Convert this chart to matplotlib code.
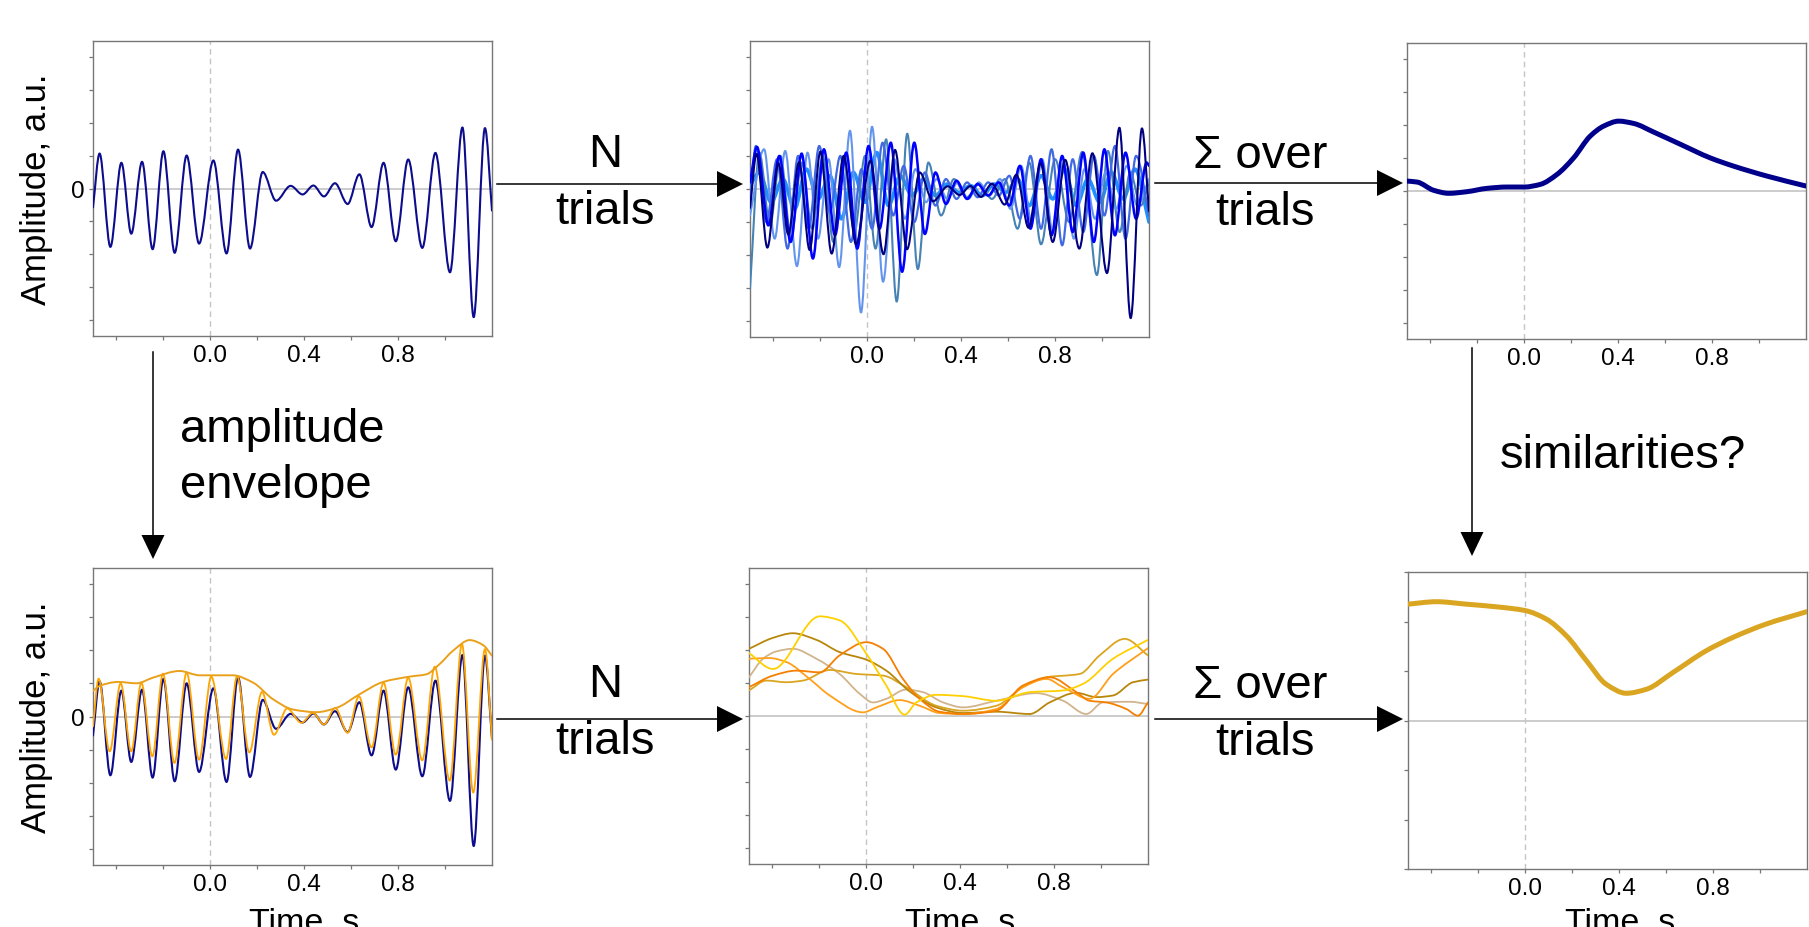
import numpy as np
import matplotlib
matplotlib.use("Agg")
import matplotlib.pyplot as plt
from matplotlib.path import Path
from matplotlib.patches import PathPatch, Polygon
from matplotlib.lines import Line2D

plt.rcParams['font.family'] = ['Liberation Sans', 'DejaVu Sans']

W, H = 1809, 928

# ---------------- data ----------------
# single trial, raw signal (extrema, time in s, amplitude in a.u.)
sig_t = [-0.500, -0.472, -0.426, -0.379, -0.337, -0.291, -0.246, -0.200, -0.152, -0.101,
         -0.048, 0.013, 0.069, 0.118, 0.169, 0.223, 0.280, 0.342, 0.393, 0.439,
         0.484, 0.531, 0.585, 0.635, 0.687, 0.738, 0.790, 0.843, 0.903, 0.959,
         1.021, 1.074, 1.122, 1.170, 1.200]
sig_v = [-0.57, 1.06, -1.77, 0.78, -1.37, 0.81, -1.84, 1.13, -1.95, 1.00,
         -1.67, 0.85, -1.97, 1.18, -1.82, 0.50, -0.37, 0.08, -0.18, 0.09,
         -0.24, 0.16, -0.47, 0.43, -1.17, 0.78, -1.60, 0.88, -1.80, 1.08,
         -2.54, 1.85, -3.90, 1.83, -0.67]

# filtered single trial (orange)
filt_t = [-0.500, -0.476, -0.429, -0.382, -0.337, -0.294, -0.247, -0.202, -0.153, -0.101,
          -0.048, 0.004, 0.067, 0.114, 0.166, 0.220, 0.271, 0.327, 0.388, 0.437,
          0.484, 0.532, 0.585, 0.633, 0.687, 0.738, 0.790, 0.843, 0.903, 0.956,
          1.020, 1.072, 1.120, 1.170, 1.200]
filt_v = [-0.30, 1.14, -1.05, 1.00, -1.05, 1.02, -1.20, 1.29, -1.40, 1.32,
          -1.30, 1.20, -1.28, 1.22, -1.08, 0.74, -0.55, 0.24, -0.19, 0.11,
          -0.24, 0.26, -0.49, 0.61, -0.93, 1.02, -1.15, 1.17, -1.32, 1.50,
          -1.93, 2.18, -2.29, 2.03, -0.70]

# amplitude envelope of the single trial
env_t = [-0.500, -0.472, -0.393, -0.315, -0.244, -0.131, -0.046, 0.096, 0.182, 0.267,
         0.352, 0.452, 0.537, 0.636, 0.736, 0.849, 0.920, 0.977, 1.034, 1.105, 1.162, 1.200]
env_v = [0.77, 0.92, 1.04, 1.00, 1.17, 1.37, 1.24, 1.24, 1.02, 0.52,
         0.21, 0.13, 0.26, 0.67, 1.04, 1.20, 1.27, 1.58, 1.98, 2.30, 2.15, 1.83]

# other raw trials (extrema)
tr_blue_t = [-0.5, -0.47, -0.422, -0.375, -0.327, -0.28, -0.232, -0.185, -0.138, -0.09,
             -0.043, 0.005, 0.052, 0.10, 0.148, 0.20, 0.245, 0.29, 0.335, 0.38,
             0.425, 0.47, 0.515, 0.56, 0.605, 0.65, 0.695, 0.74, 0.785, 0.83,
             0.875, 0.92, 0.965, 1.01, 1.055, 1.10, 1.145, 1.19, 1.2]
tr_blue_v = [0.2, 1.27, -1.1, 1.0, -1.6, 1.07, -2.1, 1.2, -1.4, 1.1,
             -1.8, 1.3, -1.2, 1.4, -2.5, 1.4, -1.36, 0.5, -0.45, 0.25,
             -0.3, 0.15, -0.2, 0.2, -0.5, 0.7, -1.2, 0.9, -1.4, 1.0,
             -1.3, 1.1, -1.6, 1.2, -1.4, 1.1, -0.9, 0.8, 0.7]

tr_steel_t = [-0.5, -0.46, -0.415, -0.37, -0.325, -0.28, -0.235, -0.19, -0.145, -0.10,
              -0.055, -0.01, 0.035, 0.08, 0.125, 0.17, 0.215, 0.26, 0.314, 0.369,
              0.423, 0.477, 0.531, 0.586, 0.64, 0.69, 0.74, 0.80, 0.86, 0.915,
              0.978, 1.025, 1.075, 1.12, 1.165, 1.2]
tr_steel_v = [-3.0, 1.1, -1.1, 1.0, -1.5, 0.8, -1.2, 1.0, -1.6, 0.9,
              -1.3, 1.0, -1.8, 1.5, -3.4, 1.67, -2.42, 0.8, -0.8, 0.3,
              -0.25, 0.15, -0.3, 0.3, -1.2, 0.8, -1.67, 0.9, -1.0, 1.12,
              -2.6, 1.15, -1.3, 0.5, -0.5, 0.2]

tr_corn_t = [-0.5, -0.44, -0.395, -0.35, -0.30, -0.255, -0.21, -0.165, -0.12, -0.074,
             -0.027, 0.02, 0.067, 0.115, 0.16, 0.205, 0.25, 0.295, 0.34, 0.385,
             0.43, 0.475, 0.52, 0.565, 0.61, 0.655, 0.70, 0.745, 0.79, 0.835,
             0.88, 0.925, 0.97, 1.015, 1.06, 1.105, 1.15, 1.2]
tr_corn_v = [-0.8, 1.2, -1.5, 1.15, -2.33, 1.1, -1.5, 0.9, -2.36, 1.76,
             -3.73, 1.88, -2.8, 0.9, -0.9, 0.6, -0.4, 0.3, -0.3, 0.2,
             -0.3, 0.2, -0.2, 0.3, -0.6, 0.7, -1.0, 0.9, -1.3, 0.8,
             -1.5, 0.6, -0.9, 0.5, -0.6, 0.7, -0.5, 0.3]

tr_dodger_t = [-0.5, -0.46, -0.41, -0.36, -0.31, -0.26, -0.21, -0.16, -0.11, -0.06,
               -0.01, 0.04, 0.09, 0.14, 0.19, 0.24, 0.29, 0.34, 0.39, 0.44,
               0.49, 0.54, 0.59, 0.64, 0.69, 0.74, 0.79, 0.84, 0.89, 0.94,
               0.99, 1.04, 1.09, 1.14, 1.2]
tr_dodger_v = [0.1, 0.5, -0.4, 0.3, -0.6, 0.6, -0.3, 0.4, -0.9, 0.5,
               -0.4, 1.1, -0.5, 0.4, -0.2, 0.3, -0.2, 0.15, -0.1, 0.1,
               -0.2, 0.15, -0.1, 0.3, -0.5, 0.4, -0.3, 0.6, -0.5, 0.3,
               -0.4, 0.5, -0.3, 0.6, -1.0]

tr_royal_t = [-0.5, -0.475, -0.43, -0.385, -0.34, -0.295, -0.25, -0.205, -0.16, -0.115,
              -0.07, -0.025, 0.02, 0.065, 0.11, 0.155, 0.2, 0.245, 0.29, 0.335,
              0.38, 0.425, 0.47, 0.515, 0.56, 0.605, 0.65, 0.695, 0.74, 0.785,
              0.83, 0.875, 0.92, 0.965, 1.01, 1.055, 1.10, 1.145, 1.2]
tr_royal_v = [-0.5, 1.3, -1.0, 0.9, -1.8, 1.0, -1.2, 1.3, -0.7, 1.0,
              -1.6, 0.6, -1.2, 1.4, -0.8, 0.7, -1.0, 0.5, -0.5, 0.3,
              -0.3, 0.2, -0.25, 0.2, -0.2, 0.4, -0.9, 1.0, -1.2, 1.2,
              -1.7, 0.9, -1.3, 1.0, -0.8, 1.3, -1.5, 1.0, -0.8]

# envelopes of the trials
env_gold_t = [-0.5, -0.398, -0.199, -0.114, 0.0, 0.085, 0.163, 0.213, 0.298, 0.412,
              0.554, 0.696, 0.838, 0.923, 1.051, 1.2]
env_gold_v = [1.90, 1.42, 3.01, 2.89, 1.88, 0.92, 0.04, 0.41, 0.64, 0.60,
              0.46, 0.72, 0.77, 0.97, 1.73, 2.30]
env_dgold_t = [-0.5, -0.398, -0.313, -0.213, -0.114, 0.0, 0.085, 0.185, 0.298, 0.412,
               0.554, 0.696, 0.781, 0.895, 0.980, 1.051, 1.136, 1.2]
env_dgold_v = [2.03, 2.36, 2.50, 2.30, 1.93, 1.70, 1.37, 0.74, 0.26, 0.09,
               0.13, 0.06, 0.41, 0.70, 0.57, 0.62, 1.02, 1.10]
env_tan_t = [-0.5, -0.440, -0.384, -0.313, -0.213, -0.114, -0.028, 0.028, 0.085, 0.170,
             0.241, 0.327, 0.412, 0.554, 0.724, 0.838, 0.937, 1.008, 1.122, 1.2]
env_tan_v = [1.17, 1.73, 1.95, 2.03, 1.73, 1.27, 0.67, 0.41, 0.52, 0.80,
             0.72, 0.41, 0.26, 0.46, 0.69, 0.46, 0.06, 0.41, 0.43, 0.36]
env_dorange_t = [-0.5, -0.398, -0.298, -0.199, -0.114, 0.0, 0.071, 0.156, 0.227, 0.312,
                 0.412, 0.554, 0.667, 0.781, 0.895, 0.951, 1.022, 1.108, 1.157, 1.2]
env_dorange_v = [0.87, 1.22, 1.37, 1.32, 1.83, 2.23, 2.03, 1.12, 0.52, 0.13,
                 0.06, 0.16, 0.92, 1.17, 0.72, 0.46, 0.41, 0.21, 0.01, 0.41]
env_orange_t = [-0.5, -0.412, -0.341, -0.242, -0.156, -0.014, 0.043, 0.142, 0.227, 0.312,
                0.412, 0.554, 0.667, 0.767, 0.838, 0.951, 1.051, 1.2]
env_orange_v = [1.73, 1.75, 1.63, 1.12, 0.62, 0.11, 0.26, 0.48, 0.31, 0.09,
                0.06, 0.21, 0.87, 1.12, 0.87, 0.52, 1.27, 2.05]
env_grod_t = [-0.5, -0.426, -0.341, -0.270, -0.156, -0.043, 0.071, 0.170, 0.298, 0.412,
              0.554, 0.667, 0.767, 0.909, 0.994, 1.101, 1.2]
env_grod_v = [0.77, 1.07, 1.02, 1.07, 1.39, 1.27, 1.22, 0.87, 0.31, 0.16,
              0.31, 0.87, 1.17, 1.27, 1.83, 2.33, 1.83]

# averages over trials
erp_t = [-0.5, -0.457, -0.386, -0.322, -0.244, -0.159, -0.074, 0.0, 0.068, 0.139,
         0.210, 0.281, 0.338, 0.402, 0.466, 0.551, 0.665, 0.792, 0.892, 1.034, 1.2]
erp_v = [0.30, 0.27, 0.02, -0.07, -0.02, 0.08, 0.12, 0.12, 0.20, 0.50,
         1.00, 1.66, 1.96, 2.11, 2.04, 1.78, 1.41, 1.00, 0.75, 0.45, 0.15]
avg_env_t = [-0.5, -0.379, -0.251, -0.109, 0.0, 0.089, 0.175, 0.260, 0.345, 0.430,
             0.515, 0.629, 0.771, 0.885, 1.027, 1.2]
avg_env_v = [2.35, 2.40, 2.35, 2.29, 2.22, 2.05, 1.71, 1.21, 0.73, 0.55,
             0.63, 0.97, 1.41, 1.68, 1.95, 2.20]

xticks = [-0.4, -0.2, 0.0, 0.2, 0.4, 0.6, 0.8, 1.0]
xtick_labels = ['', '', '0.0', '', '0.4', '', '0.8', '']


def smooth_path(x, y):
    # monotone cubic (pchip style) tangents, drawn as bezier segments
    x = np.asarray(x, float)
    y = np.asarray(y, float)
    h = np.diff(x)
    d = np.diff(y) / h
    m = np.zeros_like(y)
    m[0] = d[0]
    m[-1] = d[-1]
    for k in range(1, len(y) - 1):
        if d[k - 1] * d[k] > 0:
            w1 = 2 * h[k] + h[k - 1]
            w2 = h[k] + 2 * h[k - 1]
            m[k] = (w1 + w2) / (w1 / d[k - 1] + w2 / d[k])
    verts = [(x[0], y[0])]
    codes = [Path.MOVETO]
    for k in range(len(h)):
        verts += [(x[k] + h[k] / 3, y[k] + m[k] * h[k] / 3),
                  (x[k + 1] - h[k] / 3, y[k + 1] - m[k + 1] * h[k] / 3),
                  (x[k + 1], y[k + 1])]
        codes += [Path.CURVE4] * 3
    return Path(verts, codes)


def trace(ax, x, y, color, lw, z=3):
    ax.add_patch(PathPatch(smooth_path(x, y), fill=False, edgecolor=color, lw=lw,
                           zorder=z, capstyle='round', joinstyle='round'))


def rect(l, t, r, b):
    return [l / W, 1 - b / H, (r - l) / W, (b - t) / H]


def setup(ax, ylim, label_y=False):
    ax.set_xlim(-0.5, 1.2)
    ax.set_ylim(-ylim, ylim)
    ax.set_xticks(xticks)
    ax.set_xticklabels(xtick_labels)
    yt = list(range(-int(ylim), int(ylim) + 1))
    ax.set_yticks(yt)
    ax.set_yticklabels(['0' if (v == 0 and label_y) else '' for v in yt])
    ax.axhline(0, color='#c4c4c4', lw=1.2, zorder=1)
    ax.axvline(0, color='#c4c4c4', lw=1.0, ls=(0, (4, 3)), zorder=1)
    for s in ax.spines.values():
        s.set_color('#777777')
        s.set_linewidth(1.0)
    ax.tick_params(direction='out', length=3, width=0.9, color='#777777',
                   labelsize=17.5, pad=3)


def px(x, y):
    return (x / W, 1 - y / H)


def harrow(fig, x0, x1, y, hl=26, hw=13):
    fig.add_artist(Line2D([x0 / W, (x1 - hl + 2) / W], [1 - y / H, 1 - y / H],
                          color='black', lw=1.1))
    fig.add_artist(Polygon([px(x1 - hl, y - hw), px(x1, y), px(x1 - hl, y + hw)],
                           closed=True, color='black', lw=0))


def varrow(fig, x, y0, y1, hl=24, hw=11.5):
    fig.add_artist(Line2D([x / W, x / W], [1 - y0 / H, 1 - (y1 - hl + 2) / H],
                          color='black', lw=1.1))
    fig.add_artist(Polygon([px(x - hw, y1 - hl), px(x, y1), px(x + hw, y1 - hl)],
                           closed=True, color='black', lw=0))


fig = plt.figure(figsize=(W / 100, H / 100), dpi=100)

ax1 = fig.add_axes(rect(93, 42, 492, 337))
ax2 = fig.add_axes(rect(750, 42, 1149, 338))
ax3 = fig.add_axes(rect(1407, 44, 1806, 340))
ax4 = fig.add_axes(rect(93, 569, 492, 866))
ax5 = fig.add_axes(rect(749, 569, 1148, 865))
ax6 = fig.add_axes(rect(1408, 573, 1807, 870))

setup(ax1, 4.47, label_y=True)
setup(ax2, 4.47)
setup(ax3, 4.47)
setup(ax4, 4.47, label_y=True)
setup(ax5, 4.47)
setup(ax6, 3.0)

# single raw trial
trace(ax1, sig_t, sig_v, '#0c0c8c', 1.5)

# N raw trials
trace(ax2, tr_dodger_t, tr_dodger_v, '#1e90ff', 2.6)
trace(ax2, tr_steel_t, tr_steel_v, '#4682b4', 1.5)
trace(ax2, tr_corn_t, tr_corn_v, '#6495ed', 1.5)
trace(ax2, tr_royal_t, tr_royal_v, '#4169e1', 1.6)
trace(ax2, tr_blue_t, tr_blue_v, '#0000ff', 1.8)
trace(ax2, sig_t, sig_v, '#000080', 1.5)

# average of raw trials
trace(ax3, erp_t, erp_v, '#00008b', 3.6)

# single trial with envelope
trace(ax4, sig_t, sig_v, '#0c0c8c', 1.5)
trace(ax4, filt_t, filt_v, '#ffa500', 1.3)
trace(ax4, env_t, env_v, '#e9a11c', 1.4)

# envelopes of N trials
trace(ax5, env_tan_t, env_tan_v, '#d2b48c', 1.3)
trace(ax5, env_grod_t, env_grod_v, '#daa520', 1.3)
trace(ax5, env_dgold_t, env_dgold_v, '#b8860b', 1.3)
trace(ax5, env_orange_t, env_orange_v, '#ff9f1a', 1.3)
trace(ax5, env_dorange_t, env_dorange_v, '#f57f00', 1.3)
trace(ax5, env_gold_t, env_gold_v, '#ffd000', 1.3)

# average envelope
trace(ax6, avg_env_t, avg_env_v, '#daa520', 3.6)

# axis labels
fig.text(37 / W, 1 - 189 / H, 'Amplitude, a.u.', rotation=90, ha='center', va='center', fontsize=25)
fig.text(37 / W, 1 - 717 / H, 'Amplitude, a.u.', rotation=90, ha='center', va='center', fontsize=25)
for cx in (304, 960, 1620):
    fig.text(cx / W, 1 - 931 / H, 'Time, s', ha='center', va='baseline', fontsize=24.5)

# arrows between panels
harrow(fig, 497, 743, 185)
harrow(fig, 1155, 1403, 184)
harrow(fig, 497, 743, 720)
harrow(fig, 1155, 1403, 720)
varrow(fig, 153, 353, 560)
varrow(fig, 1472, 349, 557)

big = 34
fig.text(605 / W, 1 - 167 / H, 'N', ha='center', va='baseline', fontsize=big)
fig.text(605 / W, 1 - 224 / H, 'trials', ha='center', va='baseline', fontsize=big)
fig.text(1260 / W, 1 - 168 / H, 'Σ over', ha='center', va='baseline', fontsize=big)
fig.text(1265 / W, 1 - 225 / H, 'trials', ha='center', va='baseline', fontsize=big)
fig.text(605 / W, 1 - 697 / H, 'N', ha='center', va='baseline', fontsize=big)
fig.text(605 / W, 1 - 754 / H, 'trials', ha='center', va='baseline', fontsize=big)
fig.text(1260 / W, 1 - 698 / H, 'Σ over', ha='center', va='baseline', fontsize=big)
fig.text(1265 / W, 1 - 755 / H, 'trials', ha='center', va='baseline', fontsize=big)
fig.text(180 / W, 1 - 442 / H, 'amplitude', ha='left', va='baseline', fontsize=big)
fig.text(180 / W, 1 - 498 / H, 'envelope', ha='left', va='baseline', fontsize=big)
fig.text(1500 / W, 1 - 468 / H, 'similarities?', ha='left', va='baseline', fontsize=big)

fig.savefig('out.png', dpi=100)
